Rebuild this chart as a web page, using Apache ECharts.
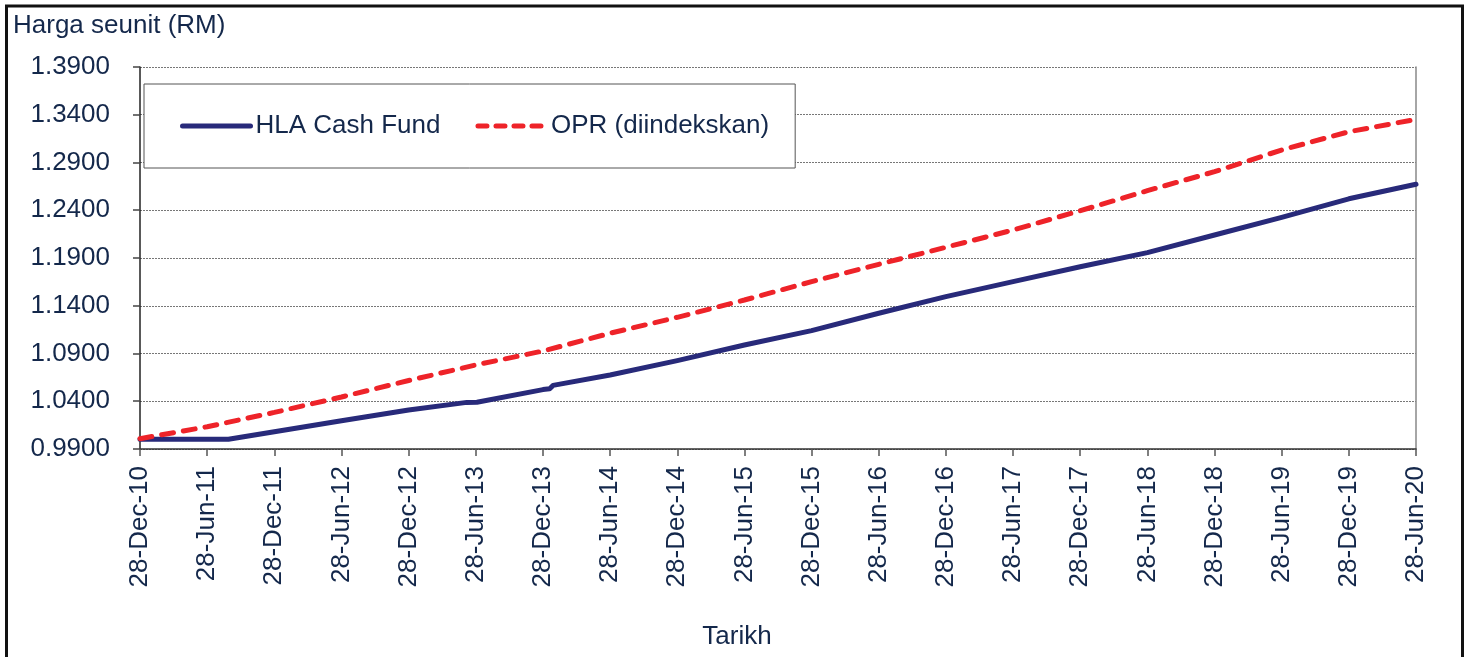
<!DOCTYPE html>
<html>
<head>
<meta charset="utf-8">
<script src="https://cdn.jsdelivr.net/npm/echarts@6/dist/echarts.min.js"></script>
<style>
html,body{margin:0;padding:0;background:#fff;}
#chart{width:1468px;height:657px;}
</style>
</head>
<body>
<div id="chart"></div>
<script>
// ---- data ----
const xTickLabels = ['28-Dec-10','28-Jun-11','28-Dec-11','28-Jun-12','28-Dec-12','28-Jun-13','28-Dec-13','28-Jun-14','28-Dec-14','28-Jun-15','28-Dec-15','28-Jun-16','28-Dec-16','28-Jun-17','28-Dec-17','28-Jun-18','28-Dec-18','28-Jun-19','28-Dec-19','28-Jun-20'];
const yTicks = [0.99, 1.04, 1.09, 1.14, 1.19, 1.24, 1.29, 1.34, 1.39];

// months since 28-Dec-10
const hlaMonths = [0, 7.9, 12, 18, 24, 29.2, 30.1, 36, 36.6, 36.9, 42, 48, 54, 60, 66, 72, 78, 84, 90, 96, 102, 108, 114];
const hlaValues = [1.0002, 1.0002, 1.0081, 1.0196, 1.0308, 1.0388, 1.0389, 1.0522, 1.0530, 1.0566, 1.0675, 1.0825, 1.0989, 1.1139, 1.1321, 1.1495, 1.1652, 1.1809, 1.1956, 1.2141, 1.2325, 1.2520, 1.2672];

const oprMonths = [0, 6, 12, 18, 24, 30, 36, 42, 48, 54, 60, 66, 72, 78, 84, 90, 96, 102, 108, 114];
const oprValues = [1.0008, 1.0133, 1.0283, 1.0445, 1.0617, 1.0780, 1.0926, 1.1112, 1.1279, 1.1460, 1.1652, 1.1834, 1.2012, 1.2193, 1.2395, 1.2605, 1.2804, 1.3031, 1.3222, 1.3352];

const seriesNames = ['HLA Cash Fund', 'OPR (diindekskan)'];
const yTitle = 'Harga seunit (RM)';
const xTitle = 'Tarikh';

// ---- chart ----
const textColor = '#14284b';
const navy = '#282a7a';
const red = '#ee2329';
const FONT = '"Liberation Sans", Arial, sans-serif';
const chart = echarts.init(document.getElementById('chart'), null, {renderer: 'canvas'});
const zip = (xs, ys) => xs.map((x, i) => [x, ys[i]]);

chart.setOption({
  animation: false,
  backgroundColor: '#ffffff',
  textStyle: {fontFamily: FONT, color: textColor},
  grid: {left: 140, right: 52, top: 67, bottom: 208, outerBoundsMode: 'none', containLabel: false},
  legend: {
    left: 144, top: 84,
    padding: [29, 26, 29, 36],
    borderColor: '#555', borderWidth: 1, backgroundColor: '#fff',
    itemWidth: 68, itemHeight: 14, itemGap: 35,
    itemStyle: {color: 'rgba(0,0,0,0)', borderWidth: 0, opacity: 0},
    lineStyle: {width: 5, cap: 'round'},
    textStyle: {fontFamily: FONT, fontSize: 26, color: textColor},
    data: [
      {name: seriesNames[0], lineStyle: {width: 5, cap: 'round', color: navy}},
      {name: seriesNames[1], lineStyle: {width: 5, cap: 'round', color: red, type: [9, 9]}}
    ]
  },
  xAxis: {
    type: 'value', min: 0, max: 114, interval: 6,
    axisLine: {show: true, lineStyle: {color: '#333', width: 1.5}},
    axisTick: {show: true, length: 7, lineStyle: {color: '#555', width: 1.5}},
    axisLabel: {
      rotate: 90, margin: 17, fontSize: 26, color: textColor, fontFamily: FONT,
      formatter: v => xTickLabels[Math.round(v / 6)] || ''
    },
    splitLine: {show: false}
  },
  yAxis: [{
    type: 'value', min: 0.99, max: 1.39,
    axisLine: {show: true, lineStyle: {color: '#222', width: 1.5}},
    axisTick: {show: true, length: 7, customValues: yTicks, lineStyle: {color: '#444', width: 1.5}},
    axisLabel: {
      margin: 30, fontSize: 26, color: textColor, fontFamily: FONT,
      customValues: yTicks,
      formatter: v => v.toFixed(4)
    },
    splitLine: {show: true, lineStyle: {color: '#777', width: 1, type: [2, 1]}}
  }, {
    type: 'value', min: 0.99, max: 1.39, position: 'right',
    axisLine: {show: true, lineStyle: {color: '#888', width: 1.5}},
    axisTick: {show: false}, axisLabel: {show: false}, splitLine: {show: false}
  }],
  series: [{
    name: seriesNames[0], type: 'line', data: zip(hlaMonths, hlaValues),
    showSymbol: false, symbol: 'none', z: 3,
    lineStyle: {color: navy, width: 5, cap: 'round', join: 'round'},
    itemStyle: {color: navy}
  }, {
    name: seriesNames[1], type: 'line', data: zip(oprMonths, oprValues),
    showSymbol: false, symbol: 'none', z: 4,
    lineStyle: {color: red, width: 5, type: [12, 10], cap: 'round'},
    itemStyle: {color: red}
  }],
  graphic: [
    {type: 'rect', z: 100, silent: true,
     shape: {x: 6.5, y: 6, width: 1456, height: 720},
     style: {fill: 'none', stroke: '#111', lineWidth: 3}},
    {type: 'text', x: 13, y: 26, z: 100,
     style: {text: yTitle, font: '26px ' + FONT, fill: textColor, align: 'left', verticalAlign: 'middle'}},
    {type: 'text', x: 737, y: 637, z: 100,
     style: {text: xTitle, font: '26px ' + FONT, fill: textColor, align: 'center', verticalAlign: 'middle'}}
  ]
});
</script>
</body>
</html>
